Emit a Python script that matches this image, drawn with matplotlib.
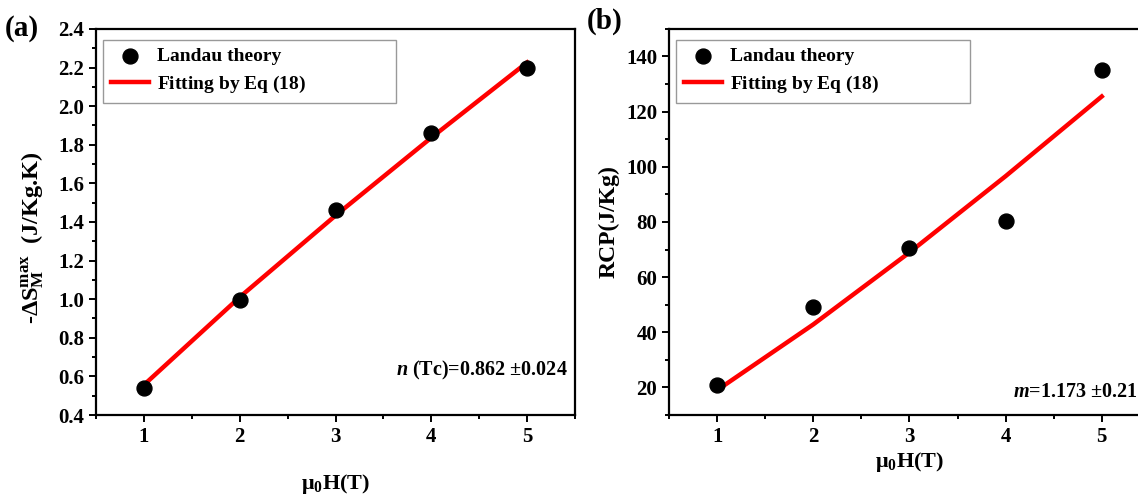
import numpy as np
import matplotlib.pyplot as plt
from matplotlib.ticker import MultipleLocator

# Field values and data
field = [1, 2, 3, 4, 5]
ds_max = [0.54, 0.995, 1.46, 1.86, 2.195]
rcp = [21.0, 49.0, 70.5, 80.5, 135.0]

# Fit parameters (power law  a * H^n)
ds_pref, ds_exp = 0.556, 0.862
rcp_pref, rcp_exp = 19.0, 1.173

plt.rcParams['font.family'] = 'Liberation Serif'
plt.rcParams['font.weight'] = 'bold'
plt.rcParams['mathtext.fontset'] = 'custom'
plt.rcParams['mathtext.rm'] = 'Liberation Serif'
plt.rcParams['mathtext.bf'] = 'Liberation Serif:bold'
plt.rcParams['mathtext.it'] = 'Liberation Serif:italic:bold'

fig = plt.figure(figsize=(11.38, 4.95), dpi=100)
ax1 = fig.add_axes([0.0844, 0.1616, 0.4209, 0.780])
ax2 = fig.add_axes([0.5879, 0.1616, 0.4225, 0.780])

h = np.array(field, dtype=float)


def style(ax):
    for s in ax.spines.values():
        s.set_linewidth(1.6)
    ax.tick_params(which='both', direction='out', width=1.4, labelsize=15,
                   top=False, right=False)
    ax.tick_params(which='major', length=5)
    ax.tick_params(which='minor', length=3)
    ax.set_xlim(0.5, 5.5)
    ax.xaxis.set_major_locator(MultipleLocator(1))
    ax.xaxis.set_minor_locator(MultipleLocator(0.5))
    for lab in ax.get_xticklabels() + ax.get_yticklabels():
        lab.set_fontweight('bold')


def add_legend(ax):
    leg = ax.legend(loc='upper left', fontsize=14, frameon=True, fancybox=False,
                    edgecolor='gray', borderpad=0.4, handlelength=2.0,
                    handletextpad=0.4, labelspacing=0.45, borderaxespad=0,
                    mode='expand', bbox_to_anchor=(0.014, 0.2, 0.613, 0.772))
    leg.get_frame().set_linewidth(1.0)
    for t in leg.get_texts():
        t.set_fontweight('bold')


# (a) entropy change
ax1.scatter(field, ds_max, s=115, color='black', zorder=3, label='Landau theory')
ax1.plot(h, ds_pref * h ** ds_exp, color='red', lw=3.2, label=r'Fitting by Eq $\mathrm{(18)}$')
ax1.set_ylim(0.4, 2.4)
ax1.yaxis.set_major_locator(MultipleLocator(0.2))
ax1.yaxis.set_minor_locator(MultipleLocator(0.1))
style(ax1)
ax1.set_ylabel(r'-ΔS$_\mathbf{M}^\mathbf{max}$  (J/Kg.K)', fontsize=17.5, fontweight='bold')
ax1.yaxis.set_label_coords(-0.105, 0.46)
ax1.set_xlabel(r'μ$_\mathbf{0}$H(T)', fontsize=16, fontweight='bold', labelpad=18)
ax1.text(0.985, 0.115, r'$n$ (Tc)=0.862 ±0.024', transform=ax1.transAxes,
         ha='right', va='center', fontsize=14.5, fontweight='bold')
add_legend(ax1)
fig.text(0.004, 0.943, '(a)', fontsize=21, fontweight='bold', va='center')

# (b) relative cooling power
ax2.scatter(field, rcp, s=115, color='black', zorder=3, label='Landau theory')
ax2.plot(h, rcp_pref * h ** rcp_exp, color='red', lw=3.2, label=r'Fitting by Eq $\mathrm{(18)}$')
ax2.set_ylim(10, 150)
ax2.yaxis.set_major_locator(MultipleLocator(20))
ax2.yaxis.set_minor_locator(MultipleLocator(10))
style(ax2)
ax2.set_ylabel('RCP(J/Kg)', fontsize=17, fontweight='bold', labelpad=5)
ax2.set_xlabel(r'μ$_\mathbf{0}$H(T)', fontsize=16, fontweight='bold', labelpad=2)
ax2.text(0.715, 0.06, r'$m$=1.173 ±0.217', transform=ax2.transAxes,
         ha='left', va='center', fontsize=14.5, fontweight='bold')
add_legend(ax2)
fig.text(0.516, 0.956, '(b)', fontsize=21, fontweight='bold', va='center')

fig.savefig('out.png', dpi=100)
